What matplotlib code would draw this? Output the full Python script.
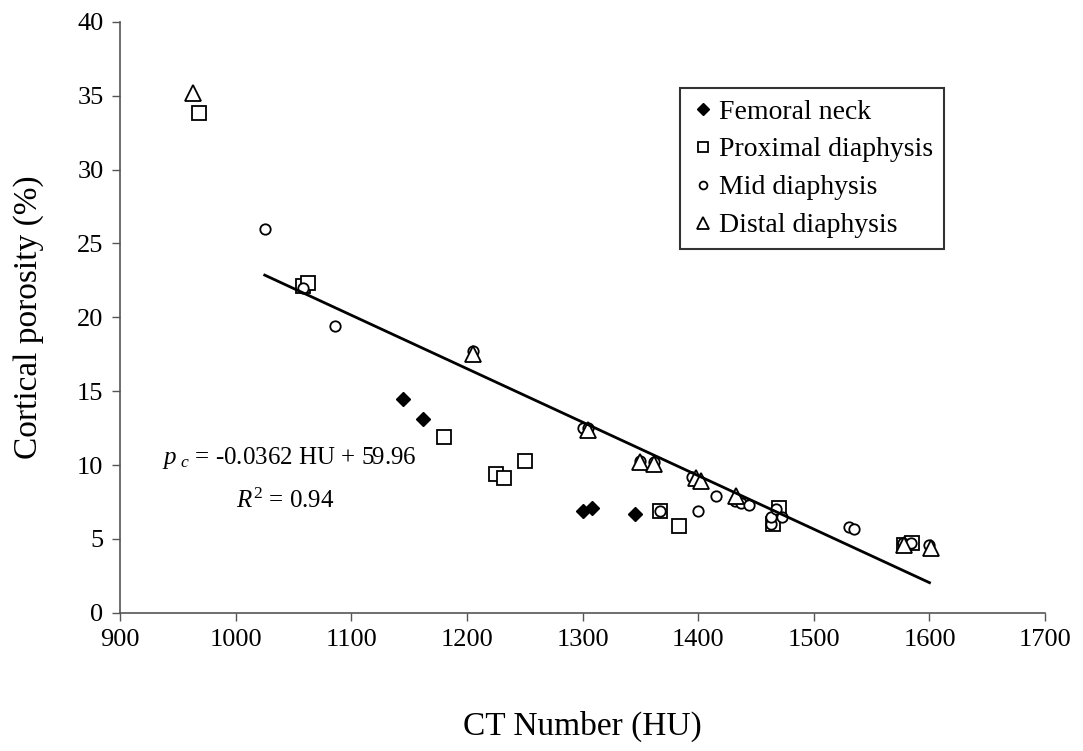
import numpy as np
import matplotlib
matplotlib.use("Agg")
import matplotlib.pyplot as plt

plt.rcParams['font.family'] = ['Liberation Serif', 'DejaVu Serif']
plt.rcParams['mathtext.fontset'] = 'custom'
plt.rcParams['mathtext.rm'] = 'Liberation Serif'
plt.rcParams['mathtext.it'] = 'Liberation Serif:italic'

# data
neck_hu = [1145, 1162, 1300, 1308, 1345]
neck_por = [14.5, 13.1, 6.9, 7.1, 6.7]

prox_hu = [968, 1058, 1062, 1180, 1225, 1232, 1250, 1367, 1383, 1465, 1470, 1578, 1585]
prox_por = [33.8, 22.1, 22.3, 11.9, 9.4, 9.1, 10.3, 6.9, 5.9, 6.0, 7.1, 4.6, 4.7]

mid_hu = [1025, 1058, 1086, 1205, 1300, 1305, 1350, 1362, 1367, 1395, 1400, 1415,
          1432, 1437, 1444, 1463, 1463, 1467, 1472, 1530, 1535, 1577, 1584, 1600]
mid_por = [26.0, 22.0, 19.4, 17.7, 12.5, 12.5, 10.3, 10.2, 6.9, 9.2, 6.9, 7.9,
           7.6, 7.4, 7.3, 6.0, 6.5, 7.0, 6.5, 5.8, 5.7, 4.7, 4.7, 4.6]

dist_hu = [963, 1205, 1305, 1350, 1362, 1398, 1402, 1433, 1578, 1601]
dist_por = [35.2, 17.5, 12.4, 10.2, 10.1, 9.1, 8.9, 7.9, 4.6, 4.4]

slope, intercept = -0.0362, 59.96
fit_range = [1025, 1600]

fig = plt.figure(figsize=(10.83, 7.51), dpi=100)
ax = fig.add_axes([0.111, 0.184, 0.854, 0.787])

ax.plot(neck_hu, neck_por, linestyle='none', marker='D', markersize=7.5,
        color='black', label='Femoral neck')
ax.plot(prox_hu, prox_por, linestyle='none', marker='s', markersize=10.5,
        markerfacecolor='white', markeredgecolor='black', markeredgewidth=1.3,
        label='Proximal diaphysis')
ax.plot(mid_hu, mid_por, linestyle='none', marker='o', markersize=7.5,
        markerfacecolor='white', markeredgecolor='black', markeredgewidth=1.3,
        label='Mid diaphysis')
ax.plot(dist_hu, dist_por, linestyle='none', marker='^', markersize=11,
        markerfacecolor='white', markeredgecolor='black', markeredgewidth=1.3,
        label='Distal diaphysis')

fx = np.array(fit_range)
ax.plot(fx, slope * fx + intercept, color='black', linewidth=2.0)

ax.text(1046, 10.5, '$p_{\\ c}$ = -0.0362 HU + 59.96', fontsize=18,
        ha='center', va='center')
ax.text(1043, 7.6, '$R^{2}$ = 0.94', fontsize=18, ha='center', va='center')

ax.set_xlim(900, 1700)
ax.set_ylim(0, 40)
ax.set_xticks(np.arange(900, 1701, 100))
ax.set_yticks(np.arange(0, 41, 5))
ax.tick_params(labelsize=19, direction='out', length=6, width=1,
               color='#555555', pad=6)
ax.set_xlabel('CT Number (HU)', fontsize=24, labelpad=43)
ax.set_ylabel('Cortical porosity (%)', fontsize=24, labelpad=24)
for s in ['top', 'right']:
    ax.spines[s].set_visible(False)
for s in ['left', 'bottom']:
    ax.spines[s].set_color('#555555')
    ax.spines[s].set_linewidth(1.2)

leg = ax.legend(loc='upper left', bbox_to_anchor=(0.605, 0.888), fontsize=20,
                frameon=True, fancybox=False, edgecolor='black',
                handletextpad=0.1, handlelength=0.9, borderpad=0.4,
                labelspacing=0.45, markerscale=0.75, borderaxespad=0)
leg.get_frame().set_linewidth(1.5)

fig.savefig('out.png', dpi=100)
